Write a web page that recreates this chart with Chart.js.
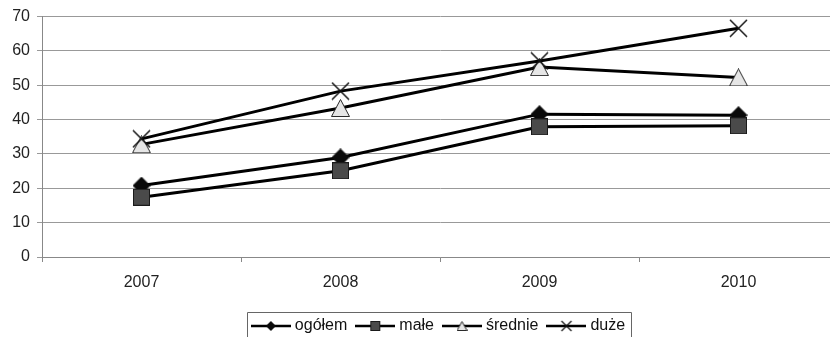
<!DOCTYPE html>
<html>
<head>
<meta charset="utf-8">
<script src="https://cdn.jsdelivr.net/npm/chart.js@4.4.1/dist/chart.umd.min.js"></script>
<style>
  html, body { margin: 0; padding: 0; background: #fff; overflow: hidden; }
  #wrap { width: 850px; height: 337px; }
</style>
</head>
<body>
<div id="wrap"><canvas id="c" width="850" height="337"></canvas></div>
<script>
// Years on the category axis
const years = ['2007', '2008', '2009', '2010'];

// Series values (percent) by year
const ogolem  = [20.8, 29.0, 41.6, 41.3];
const male    = [17.4, 25.1, 37.9, 38.2];
const srednie = [32.8, 43.4, 55.3, 52.3];
const duze    = [34.4, 48.3, 57.1, 66.6];

// Series names shown in the legend
const seriesNames = ['ogółem', 'małe', 'średnie', 'duże'];

// Value axis ticks
const yTicks = [0, 10, 20, 30, 40, 50, 60, 70];

Chart.defaults.font.family = '"Liberation Sans", Arial, sans-serif';
Chart.defaults.font.size = 16;
Chart.defaults.color = '#222';

// ---- marker images -------------------------------------------------------
function makeCanvas(w, h, draw) {
  const cv = document.createElement('canvas');
  cv.width = w; cv.height = h;
  const ctx = cv.getContext('2d');
  draw(ctx, w, h);
  return cv;
}
function diamond(size) {
  return makeCanvas(size, size, (ctx, w, h) => {
    ctx.fillStyle = '#0a0a0a';
    ctx.beginPath();
    ctx.moveTo(w / 2, 0); ctx.lineTo(w, h / 2); ctx.lineTo(w / 2, h); ctx.lineTo(0, h / 2);
    ctx.closePath(); ctx.fill();
  });
}
function square(size) {
  return makeCanvas(size, size, (ctx, w, h) => {
    ctx.fillStyle = '#4a4a4a';
    ctx.fillRect(0, 0, w, h);
    ctx.strokeStyle = '#1a1a1a'; ctx.lineWidth = 1;
    ctx.strokeRect(0.5, 0.5, w - 1, h - 1);
  });
}
function triangle(w0, h0) {
  return makeCanvas(w0, h0, (ctx, w, h) => {
    ctx.fillStyle = '#e6e6e6';
    ctx.strokeStyle = '#2a2a2a'; ctx.lineWidth = 1;
    ctx.beginPath();
    ctx.moveTo(w / 2, 0.5); ctx.lineTo(w - 0.5, h - 0.5); ctx.lineTo(0.5, h - 0.5);
    ctx.closePath(); ctx.fill(); ctx.stroke();
  });
}
function cross(size, lw) {
  return makeCanvas(size, size, (ctx, w, h) => {
    ctx.strokeStyle = '#111'; ctx.lineWidth = lw;
    ctx.beginPath();
    ctx.moveTo(1, 1); ctx.lineTo(w - 1, h - 1);
    ctx.moveTo(w - 1, 1); ctx.lineTo(1, h - 1);
    ctx.stroke();
  });
}
// legend sample: a short line with a small marker in the middle
function legendIcon(marker) {
  return makeCanvas(40, 16, (ctx, w, h) => {
    ctx.strokeStyle = '#000'; ctx.lineWidth = 2.5;
    ctx.beginPath(); ctx.moveTo(0, h / 2); ctx.lineTo(w, h / 2); ctx.stroke();
    ctx.drawImage(marker, (w - marker.width) / 2, (h - marker.height) / 2);
  });
}

const markers = [diamond(18), square(17), triangle(19, 18), cross(19, 1.5)];
const legendIcons = [
  legendIcon(diamond(10)), legendIcon(square(10)),
  legendIcon(triangle(11, 10)), legendIcon(cross(12, 1.2))
];

const seriesValues = [ogolem, male, srednie, duze];

const datasets = seriesValues.map((vals, i) => ({
  label: seriesNames[i],
  data: vals,
  borderColor: '#000',
  borderWidth: 3,
  pointStyle: markers[i],
  pointRadius: 9,
  pointHoverRadius: 9,
  tension: 0,
  fill: false,
  order: seriesValues.length - i
}));

// frame around the legend row
const legendFrame = {
  id: 'legendFrame',
  afterDraw(chart) {
    const boxes = chart.legend && chart.legend.legendHitBoxes;
    if (!boxes || !boxes.length) return;
    const first = boxes[0], last = boxes[boxes.length - 1];
    const cy = first.top + first.height / 2;
    const x0 = Math.round(first.left - 8) + 0.5;
    const x1 = Math.round(last.left + last.width + 6) + 0.5;
    const y0 = Math.round(cy - 14) + 0.5;
    const ctx = chart.ctx;
    ctx.save();
    ctx.strokeStyle = '#666';
    ctx.lineWidth = 1;
    ctx.beginPath();
    ctx.moveTo(x0, chart.height + 2);
    ctx.lineTo(x0, y0);
    ctx.lineTo(x1, y0);
    ctx.lineTo(x1, chart.height + 2);
    ctx.stroke();
    ctx.restore();
  }
};

new Chart(document.getElementById('c'), {
  type: 'line',
  data: { labels: years, datasets },
  plugins: [legendFrame],
  options: {
    responsive: false,
    animation: false,
    devicePixelRatio: 1,
    layout: { padding: { top: 15.4, right: 9, left: 0, bottom: -7 } },
    plugins: {
      tooltip: { enabled: false },
      legend: {
        position: 'bottom',
        fullSize: false,
        labels: {
          usePointStyle: true,
          pointStyleWidth: 32,
          padding: 12,
          color: '#111',
          font: { size: 16 },
          sort: (a, b) => a.datasetIndex - b.datasetIndex,
          generateLabels(chart) {
            const items = Chart.defaults.plugins.legend.labels.generateLabels(chart);
            items.forEach(it => { it.pointStyle = legendIcons[it.datasetIndex]; });
            return items;
          }
        }
      }
    },
    scales: {
      x: {
        type: 'category',
        offset: true,
        grid: { offset: true, drawOnChartArea: false, drawTicks: true, tickLength: 5, color: '#888' },
        border: { color: '#888', width: 1 },
        ticks: { padding: 11, color: '#222', maxRotation: 0 },
        afterFit(scale) { scale.height = 49; }
      },
      y: {
        min: 0,
        max: 70,
        afterBuildTicks(scale) { scale.ticks = yTicks.map(v => ({ value: v })); },
        grid: { color: '#999', tickLength: 5, drawTicks: true },
        border: { color: '#888', width: 1 },
        ticks: { padding: 7, color: '#222' },
        afterFit(scale) { scale.width = 42; }
      }
    }
  }
});
</script>
</body>
</html>
